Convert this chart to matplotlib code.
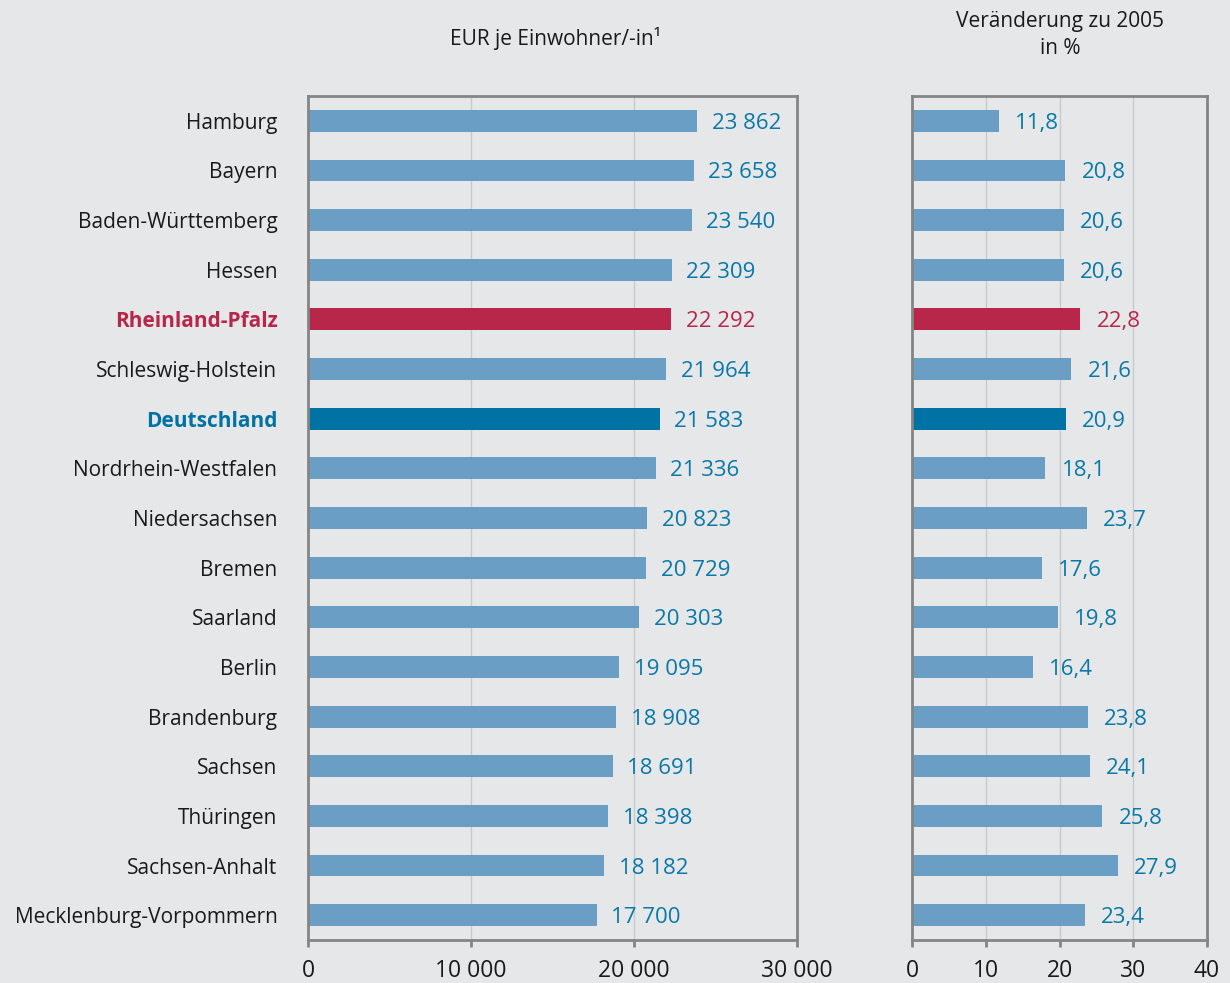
import matplotlib.pyplot as plt

plt.rcParams['font.family'] = ['Open Sans', 'DejaVu Sans']

# Data
laender = ['Hamburg', 'Bayern', 'Baden-Württemberg', 'Hessen', 'Rheinland-Pfalz',
           'Schleswig-Holstein', 'Deutschland', 'Nordrhein-Westfalen', 'Niedersachsen',
           'Bremen', 'Saarland', 'Berlin', 'Brandenburg', 'Sachsen', 'Thüringen',
           'Sachsen-Anhalt', 'Mecklenburg-Vorpommern']
eur_je_einwohner = [23862, 23658, 23540, 22309, 22292, 21964, 21583, 21336, 20823,
                    20729, 20303, 19095, 18908, 18691, 18398, 18182, 17700]
veraenderung = [11.8, 20.8, 20.6, 20.6, 22.8, 21.6, 20.9, 18.1, 23.7,
                17.6, 19.8, 16.4, 23.8, 24.1, 25.8, 27.9, 23.4]
left_ticks = [0, 10000, 20000, 30000]
left_ticklabels = ['0', '10 000', '20 000', '30 000']
right_ticks = [0, 10, 20, 30, 40]

BG = '#e6e7e9'
LIGHT = '#6a9ec5'
RED = '#b8274a'
DARK = '#0072a3'
TXT_BLUE = '#0a78a8'
FRAME = '#858585'


def bar_color(name):
    if name == 'Rheinland-Pfalz':
        return RED
    if name == 'Deutschland':
        return DARK
    return LIGHT


def fmt_eur(v):
    return f'{v:,}'.replace(',', ' ')


colors = [bar_color(n) for n in laender]
ypos = list(range(len(laender)))

fig = plt.figure(figsize=(12.3, 9.83), dpi=100, facecolor=BG)
W, H = 1230, 983
top, bottom = 96, 940
ax1 = fig.add_axes([308 / W, 1 - bottom / H, (797 - 308) / W, (bottom - top) / H])
ax2 = fig.add_axes([912 / W, 1 - bottom / H, (1207 - 912) / W, (bottom - top) / H])

for ax in (ax1, ax2):
    ax.set_facecolor(BG)
    for sp in ax.spines.values():
        sp.set_color(FRAME)
        sp.set_linewidth(2)
    ax.grid(axis='x', color='#c8c9cb', linewidth=1)
    ax.set_axisbelow(True)
    ax.set_ylim(len(laender) - 0.5, -0.5)
    ax.tick_params(axis='x', direction='out', length=5, width=2, color=FRAME,
                   labelsize=16.5, labelcolor='#1a1a1a', pad=9)
    ax.tick_params(axis='y', length=0)

ax1.barh(ypos, eur_je_einwohner, height=0.44, color=colors)
ax1.set_xlim(0, 30000)
ax1.set_xticks(left_ticks)
ax1.set_xticklabels(left_ticklabels)
ax1.set_yticks(ypos)
ax1.set_yticklabels(laender, fontsize=15)
ax1.tick_params(axis='y', pad=22)
for lbl, name in zip(ax1.get_yticklabels(), laender):
    if name == 'Rheinland-Pfalz':
        lbl.set_color(RED)
        lbl.set_fontweight('bold')
    elif name == 'Deutschland':
        lbl.set_color(DARK)
        lbl.set_fontweight('bold')
    else:
        lbl.set_color('#1a1a1a')
for y, v, name in zip(ypos, eur_je_einwohner, laender):
    c = RED if name == 'Rheinland-Pfalz' else TXT_BLUE
    ax1.text(v + 900, y + 0.05, fmt_eur(v), va='center', ha='left', fontsize=16, color=c)

ax2.barh(ypos, veraenderung, height=0.44, color=colors)
ax2.set_xlim(0, 40)
ax2.set_xticks(right_ticks)
ax2.set_yticks([])
for y, v, name in zip(ypos, veraenderung, laender):
    c = RED if name == 'Rheinland-Pfalz' else TXT_BLUE
    ax2.text(v + 2.2, y + 0.05, f'{v:.1f}'.replace('.', ','), va='center', ha='left',
             fontsize=16, color=c)

fig.text(555 / W, 1 - 38 / H, 'EUR je Einwohner/-in¹', ha='center', va='center',
         fontsize=15, color='#1a1a1a')
fig.text(1060 / W, 1 - 35 / H, 'Veränderung zu 2005\nin %', ha='center', va='center',
         fontsize=15, color='#1a1a1a', linespacing=1.35)

fig.savefig('out.png', dpi=100, facecolor=BG)
